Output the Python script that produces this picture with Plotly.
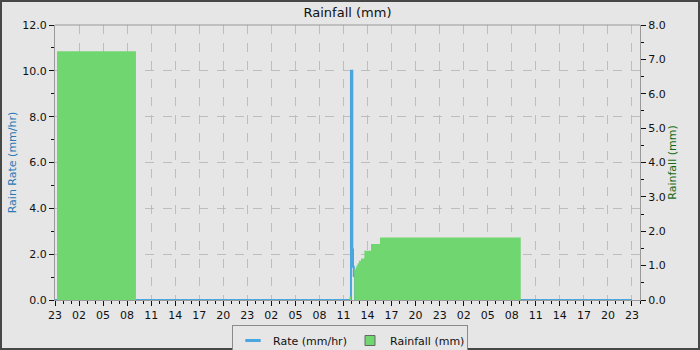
import plotly.graph_objects as go

# ---- data ----
rate_times = ["2024-01-01 23:00", "2024-01-03 11:56", "2024-01-03 12:06", "2024-01-03 12:11",
              "2024-01-03 12:17", "2024-01-03 12:27", "2024-01-04 23:00"]
rate_values = [0.0, 10.0, 2.2, 1.45, 1.05, 0.0, 0.0]

rain_times = ["2024-01-01 23:00", "2024-01-01 23:15", "2024-01-02 09:06",
              "2024-01-03 11:46", "2024-01-03 11:56", "2024-01-03 12:21", "2024-01-03 12:31",
              "2024-01-03 12:39", "2024-01-03 12:46", "2024-01-03 12:56", "2024-01-03 13:11",
              "2024-01-03 13:36", "2024-01-03 14:26", "2024-01-03 15:33", "2024-01-04 09:07",
              "2024-01-04 23:00"]
rain_values = [0.0, 7.24, 0.0,
               0.1, 0.0, 0.89, 0.95,
               1.02, 1.07, 1.14, 1.21,
               1.43, 1.63, 1.82, 0.0,
               0.0]

x_range = ["2024-01-01 23:00", "2024-01-05 00:00"]
left_ticks = [0, 2, 4, 6, 8, 10, 12]
right_ticks = [0, 1, 2, 3, 4, 5, 6, 7, 8]

GREEN = "#70d670"
BLUE = "#4aa6de"
FONT = "DejaVu Sans"

fig = go.Figure()
fig.add_trace(go.Scatter(
    x=rain_times, y=rain_values, yaxis="y2", name="Rainfall (mm)",
    mode="lines", line=dict(shape="hv", width=0, color=GREEN),
    fill="tozeroy", fillcolor=GREEN, showlegend=False))
fig.add_trace(go.Scatter(
    x=rate_times, y=rate_values, name="Rate (mm/hr)",
    mode="lines", line=dict(shape="hv", width=2, color=BLUE), showlegend=False))
# legend entries
fig.add_trace(go.Scatter(
    x=[None], y=[None], name="Rate (mm/hr)", mode="markers",
    marker=dict(symbol="line-ew-open", size=11, color=BLUE, line=dict(color=BLUE, width=3))))
fig.add_trace(go.Scatter(
    x=[None], y=[None], name="Rainfall (mm)", mode="markers",
    marker=dict(symbol="square", size=10, color=GREEN, line=dict(color="#666", width=1))))

L, R, T, B = 55, 60, 25, 50
W, H = 700, 350
pw, ph = W - L - R, H - T - B

def px(p):
    return (p - L) / pw

def py(q):
    return (H - B - q) / ph

fig.update_layout(
    width=W, height=H,
    margin=dict(l=L, r=R, t=T, b=B, pad=0, autoexpand=False),
    paper_bgcolor="#e6e6e6", plot_bgcolor="#e6e6e6",
    font=dict(family=FONT, size=11, color="#111"),
    title=dict(text="Rainfall (mm)", x=0.5, xref="paper", xanchor="center",
               y=1 - 12 / H, yanchor="middle", font=dict(size=13, color="#111")),
    showlegend=True,
    legend=dict(orientation="h", x=px(350), xanchor="center", y=py(325), yanchor="top",
                bgcolor="#e6e6e6", bordercolor="#8a8a8a", borderwidth=1,
                font=dict(size=11), traceorder="normal", itemwidth=30,
                entrywidth=72, entrywidthmode="pixels"),
    xaxis=dict(type="date", range=x_range, tickformat="%H",
               tick0="2024-01-01 23:00", dtick=3 * 3600 * 1000,
               ticks="outside", ticklen=5, tickcolor="#111", tickwidth=1,
               showline=True, linecolor="#999", linewidth=1, mirror=False,
               showgrid=True, gridcolor="#bdbdbd", griddash="dash", gridwidth=1,
               zeroline=False,
               minor=dict(dtick=3600 * 1000, ticks="outside", ticklen=3,
                          tickcolor="#111", showgrid=False),
               tickfont=dict(size=11)),
    yaxis=dict(range=[0, 12], tickvals=left_ticks, tickformat=".1f",
               ticks="outside", ticklen=5, tickcolor="#111",
               showline=True, linecolor="#999", linewidth=1,
               showgrid=True, gridcolor="#bdbdbd", griddash="dash",
               zeroline=False,
               minor=dict(dtick=1, ticks="outside", ticklen=3, tickcolor="#111", showgrid=False),
               title=dict(text="Rain Rate (mm/hr)", font=dict(size=11, color="#2a78b4"), standoff=3)),
    yaxis2=dict(range=[0, 8], tickvals=right_ticks, tickformat=".1f", overlaying="y", side="right",
                ticks="outside", ticklen=5, tickcolor="#111",
                showline=True, linecolor="#999", linewidth=1,
                showgrid=False, zeroline=False,
                minor=dict(dtick=0.5, ticks="outside", ticklen=3, tickcolor="#111", showgrid=False),
                title=dict(text="Rainfall (mm)", font=dict(size=11, color="#136b13"), standoff=3)),
    shapes=[dict(type="rect", xref="paper", yref="paper",
                 x0=px(1), x1=px(699), y0=py(349), y1=py(1),
                 line=dict(color="#474747", width=2), fillcolor="rgba(0,0,0,0)", layer="above"),
            dict(type="line", xref="paper", yref="paper", x0=0, x1=1, y0=1, y1=1,
                 line=dict(color="#999", width=1))],
)

fig.write_html("out.html")
